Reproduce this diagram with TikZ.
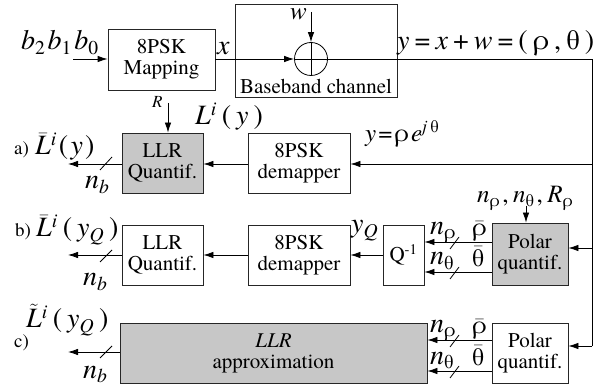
\documentclass[tikz,border=0pt]{standalone}
\usepackage{fontspec}
\setmainfont{TeX Gyre Termes}
\usetikzlibrary{arrows.meta}
\newcommand\ital[1]{\textit{#1}}
\newcommand\lo[1]{\textsubscript{#1}}
\newcommand\hi[1]{\textsuperscript{#1}}
\newcommand\barred[1]{$\bar{\hbox{#1}}$}
\newcommand\tilded[1]{$\tilde{\hbox{#1}}$}
\newcommand\gp{\hspace{0.18em}}
\newcommand\sgp{\hspace{0.08em}}
\tikzset{
  blk/.style={draw=black!85, line width=0.8pt, align=center, inner sep=0pt,
    font=\fontsize{21}{21}\selectfont},
  grayblk/.style={blk, fill=black!22},
  sig/.style={line width=0.8pt, -{Latex[length=10pt,width=6.5pt]}},
  wire/.style={line width=0.8pt},
  lbl/.style={inner sep=0pt, anchor=base west, font=\fontsize{28}{30}\selectfont},
  slbl/.style={inner sep=0pt, anchor=base west, font=\fontsize{25}{27}\selectfont},
  tag/.style={inner sep=0pt, anchor=base west, font=\fontsize{19}{21}\selectfont},
  slash/.style={line width=0.8pt}
}
\begin{document}
\begin{tikzpicture}[x=1pt,y=-1pt]
\useasboundingbox (0,0) rectangle (611,390);

% transmitter and channel
\node[blk, minimum width=107pt, minimum height=61pt] (map) at (161.5,59.5) {8PSK\\Mapping};
\node[blk, minimum width=162pt, minimum height=93pt] (chan) at (316,50.5) {};
\node[inner sep=0pt, font=\fontsize{21}{23}\selectfont] (chanlbl) at (316,86) {Baseband channel};
\node[draw, circle, line width=0.8pt, minimum size=33pt, inner sep=0pt] (sum) at (311,59) {};
\draw[wire] (sum.north) -- (sum.south);
\draw[wire] (sum.west) -- (sum.east);
\coordinate (wtop) at (311,12);
\draw[sig] (wtop) -- (sum.north);
\node[slbl] (w) at (290,20) {\ital{w}};

\coordinate (bin) at (73,59);
\node[lbl] (bits) at (21,50) {\ital{b}\lo{2}\sgp\ital{b}\lo{1}\sgp\ital{b}\lo{0}};
\draw[sig] (bin) -- (map.west |- bin);
\draw[sig] (map.east |- sum.west) -- (sum.west);
\node[lbl] (xl) at (217,55) {\ital{x}};

% distribution line on the right
\coordinate (rtop) at (592,59);
\coordinate (ra) at (592,164);
\coordinate (rb) at (592,248);
\coordinate (rc) at (592,346);
\draw[wire] (sum.east) -- (rtop) -- (rc);
\node[lbl] (yl) at (397,50) {\ital{y}\gp=\gp\ital{x}\gp+\gp\ital{w}\gp=\gp(\gp ρ\gp,\gp θ\gp)};

% row a
\node[grayblk, minimum width=81pt, minimum height=60pt] (qa) at (162.5,163) {LLR\\Quantif.};
\node[blk, minimum width=102pt, minimum height=60pt] (da) at (299,163) {8PSK\\demapper};
\draw[sig] (ra) -- (da.east |- ra);
\node[slbl] (yrho) at (365,142) {\ital{y}\sgp=\sgp ρ\sgp\ital{e}\hi{\ital{j}\,θ}};
\draw[sig] (da.west |- ra) -- (qa.east |- ra);
\coordinate (rtopa) at (168,103);
\draw[sig] (rtopa) -- (qa.north -| rtopa);
\node[inner sep=0pt, anchor=base west, font=\fontsize{17}{19}\selectfont\itshape] (rl) at (152,108) {R};
\node[lbl] (la) at (195,125) {\ital{L}\hi{\ital{i}}\gp(\gp\ital{y}\gp)};
\coordinate (oa) at (68,164);
\draw[sig] (qa.west |- ra) -- (oa);
\draw[slash] (100,170) -- (112,157);
\node[lbl] (nba) at (85,189) {\ital{n}\lo{\ital{b}}};
\node[tag] (taga) at (14,155) {a)};
\node[lbl] (outa) at (35,155) {\barred{\itshape L}\hi{\ital{i}}\sgp(\sgp\ital{y}\sgp)};

% row b
\node[blk, minimum width=81pt, minimum height=60pt] (qb) at (162.5,255) {LLR\\Quantif.};
\node[blk, minimum width=102pt, minimum height=60pt] (db) at (299,255) {8PSK\\demapper};
\node[blk, minimum width=41pt, minimum height=60pt] (qinv) at (403.5,255) {Q\hi{-1}};
\node[grayblk, minimum width=76pt, minimum height=62pt] (pb) at (530,254) {Polar\\quantif.};
\draw[sig] (rb) -- (pb.east |- rb);
\node[slbl] (params) at (477,203) {\ital{n}\lo{ρ}\sgp,\gp\ital{n}\lo{θ}\sgp,\gp\ital{R}\lo{ρ}};
\coordinate (ptop) at (526,206);
\draw[sig] (ptop) -- (pb.north -| ptop);
\coordinate (pb1) at (492,242);
\coordinate (pb2) at (492,272);
\draw[sig] (pb1) -- (qinv.east |- pb1);
\draw[sig] (pb2) -- (qinv.east |- pb2);
\draw[slash] (450,249) -- (459,237);
\draw[slash] (450,279) -- (459,267);
\node[lbl] (nrb) at (430,235) {\ital{n}\lo{ρ}};
\node[lbl] (ntb) at (430,265) {\ital{n}\lo{θ}};
\node[slbl] (rhob) at (472,236) {\barred{ρ}};
\node[slbl] (thb) at (472,267) {\barred{θ}};
\draw[sig] (qinv.west) -- (db.east);
\node[lbl] (yq) at (351,233) {\ital{y}\lo{\ital{Q}}};
\draw[sig] (db.west) -- (qb.east);
\coordinate (ob) at (68,255);
\draw[sig] (qb.west) -- (ob);
\draw[slash] (100,262) -- (112,250);
\node[lbl] (nbb) at (83,286) {\ital{n}\lo{\ital{b}}};
\node[tag] (tagb) at (15,237) {b)};
\node[lbl] (outb) at (36,237) {\barred{\itshape L}\hi{\ital{i}}\gp(\gp\ital{y}\lo{\ital{Q}}\gp)};

% row c
\node[grayblk, minimum width=307pt, minimum height=60pt] (ac) at (273.5,353) {\ital{LLR}\\approximation};
\node[blk, minimum width=76pt, minimum height=60pt] (pc) at (530,353) {Polar\\quantif.};
\draw[sig] (rc) -- (pc.east |- rc);
\coordinate (pc1) at (492,340);
\coordinate (pc2) at (492,371);
\draw[sig] (pc1) -- (ac.east |- pc1);
\draw[sig] (pc2) -- (ac.east |- pc2);
\draw[slash] (450,347) -- (459,335);
\draw[slash] (450,378) -- (459,366);
\node[lbl] (nrc) at (430,333) {\ital{n}\lo{ρ}};
\node[lbl] (ntc) at (430,364) {\ital{n}\lo{θ}};
\node[slbl] (rhoc) at (472,334) {\barred{ρ}};
\node[slbl] (thc) at (472,366) {\barred{θ}};
\coordinate (oc) at (68,352);
\draw[sig] (ac.west |- oc) -- (oc);
\draw[slash] (100,358) -- (112,346);
\node[lbl] (nbc) at (83,378) {\ital{n}\lo{\ital{b}}};
\node[tag] (tagc) at (14,348) {c)};
\node[lbl] (outc) at (26,328) {\tilded{\itshape L}\hi{\ital{i}}\gp(\gp\ital{y}\lo{\ital{Q}}\gp)};
\end{tikzpicture}
\end{document}
